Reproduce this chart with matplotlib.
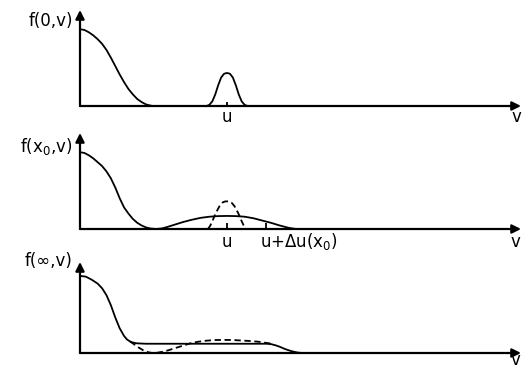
import matplotlib
matplotlib.use('Agg')
import matplotlib.pyplot as plt

# velocity axis in units of u (u = 1), f normalised to f(0) = 1
U = 1.0
U_SHIFT = 1.265  # u + delta u(x0)
V_MAX = 3.0

# f(0, v): initial distribution + beam
v0_main = [0.0, 0.03, 0.06, 0.09, 0.12, 0.15, 0.18, 0.21, 0.24, 0.27, 0.30, 0.33, 0.36,
           0.39, 0.42, 0.45, 0.48, 0.50]
f0_main = [1.0, 0.99, 0.96, 0.92, 0.87, 0.81, 0.73, 0.63, 0.52, 0.41, 0.31, 0.22, 0.15,
           0.09, 0.05, 0.02, 0.005, 0.0]
v0_beam = [0.86, 0.88, 0.90, 0.92, 0.94, 0.96, 0.98, 1.0, 1.02, 1.04, 1.06, 1.08,
           1.10, 1.12, 1.14]
f0_beam = [0.0, 0.015, 0.06, 0.15, 0.27, 0.37, 0.42, 0.43, 0.42, 0.37, 0.27, 0.15,
           0.06, 0.015, 0.0]

# f(x0, v)
v1_main = [0.0, 0.03, 0.06, 0.09, 0.12, 0.15, 0.18, 0.21, 0.24, 0.27, 0.30, 0.33, 0.36,
           0.39, 0.42, 0.45, 0.48, 0.52, 0.56, 0.60, 0.65, 0.70, 0.76, 0.82, 0.88, 0.94,
           1.0, 1.06, 1.12, 1.18, 1.24, 1.30, 1.36, 1.42, 1.47]
f1_main = [1.0, 0.99, 0.96, 0.92, 0.87, 0.82, 0.75, 0.66, 0.54, 0.40, 0.28, 0.20, 0.13,
           0.08, 0.045, 0.02, 0.006, 0.0, 0.008, 0.03, 0.06, 0.09, 0.12, 0.145, 0.16, 0.168,
           0.17, 0.168, 0.16, 0.14, 0.11, 0.08, 0.045, 0.015, 0.0]
v1_dash = [0.87, 0.885, 0.90, 0.915, 0.93, 0.95, 0.97, 0.985, 1.0, 1.015, 1.03, 1.05,
           1.07, 1.085, 1.10, 1.115, 1.125]
f1_dash = [0.0, 0.04, 0.10, 0.17, 0.23, 0.30, 0.345, 0.358, 0.36, 0.358, 0.345, 0.30,
           0.23, 0.17, 0.10, 0.04, 0.0]

# f(inf, v)
v2_main = [0.0, 0.04, 0.08, 0.12, 0.15, 0.18, 0.21, 0.24, 0.27, 0.30, 0.32, 0.34, 0.36,
           0.39, 0.45, 0.65, 1.0, 1.27, 1.30, 1.33, 1.36, 1.39, 1.42, 1.45, 1.48, 1.51]
f2_main = [1.0, 0.99, 0.95, 0.90, 0.84, 0.75, 0.62, 0.46, 0.32, 0.22, 0.175, 0.15, 0.135,
           0.125, 0.12, 0.12, 0.12, 0.12, 0.115, 0.10, 0.08, 0.055, 0.035, 0.018, 0.006, 0.0]
v2_dash = [0.34, 0.37, 0.40, 0.43, 0.46, 0.49, 0.52, 0.56, 0.60, 0.65, 0.70, 0.75, 0.80,
           0.86, 0.92, 0.98, 1.04, 1.10, 1.16, 1.22, 1.27, 1.31]
f2_dash = [0.15, 0.11, 0.07, 0.035, 0.012, 0.0, 0.002, 0.015, 0.035, 0.065, 0.095, 0.125,
           0.145, 0.16, 0.168, 0.17, 0.168, 0.162, 0.155, 0.145, 0.13, 0.12]

LW = 1.3
FS = 12
DASH = (0, (3.5, 2))

fig = plt.figure(figsize=(5.23, 3.69), dpi=100)
left, width = 80 / 523, 441 / 523
ax1 = fig.add_axes([left, 263 / 369, width, 96 / 369])
ax2 = fig.add_axes([left, 140 / 369, width, 96 / 369])
ax3 = fig.add_axes([left, 16 / 369, width, 91 / 369])
tops = [1.25, 1.25, 1.18]


def draw_axes(ax, top):
    ax.set_xlim(0, V_MAX)
    ax.set_ylim(0, top)
    ax.set_axis_off()
    arrow = dict(arrowstyle='-|>', lw=1.6, color='k', mutation_scale=13,
                 shrinkA=0, shrinkB=0)
    ax.annotate('', xy=(V_MAX, 0), xytext=(0, 0), arrowprops=arrow, annotation_clip=False)
    ax.annotate('', xy=(0, top), xytext=(0, 0), arrowprops=arrow, annotation_clip=False)


def curve(ax, v, f, ls='-'):
    ax.plot(v, f, color='k', lw=LW, ls=ls, clip_on=False,
            solid_joinstyle='round', dash_joinstyle='round')


for ax, top in zip([ax1, ax2, ax3], tops):
    draw_axes(ax, top)

# panel 1
curve(ax1, v0_main, f0_main)
curve(ax1, v0_beam, f0_beam)
ax1.vlines(U, 0, 0.05, color='k', lw=LW)
ax1.text(-0.05, 1.04, 'f(0,v)', ha='right', va='baseline', fontsize=FS)
ax1.text(U, -0.21, 'u', ha='center', va='baseline', fontsize=FS)
ax1.text(2.97, -0.21, 'v', ha='center', va='baseline', fontsize=FS)

# panel 2
curve(ax2, v1_main, f1_main)
curve(ax2, v1_dash, f1_dash, DASH)
ax2.vlines([U, U_SHIFT], 0, 0.08, color='k', lw=LW)
ax2.text(-0.05, 1.0, 'f(x$_0$,v)', ha='right', va='baseline', fontsize=FS)
ax2.text(U, -0.24, 'u', ha='center', va='baseline', fontsize=FS)
ax2.text(U_SHIFT - 0.04, -0.24, 'u+\u0394u(x$_0$)', ha='left', va='baseline', fontsize=FS)
ax2.text(2.96, -0.24, 'v', ha='center', va='baseline', fontsize=FS)

# panel 3
curve(ax3, v2_main, f2_main)
curve(ax3, v2_dash, f2_dash, DASH)
ax3.text(-0.05, 1.13, 'f(\u221e,v)', ha='right', va='baseline', fontsize=FS)
ax3.text(2.96, -0.16, 'v', ha='center', va='baseline', fontsize=FS)

fig.savefig('out.png', dpi=100)
